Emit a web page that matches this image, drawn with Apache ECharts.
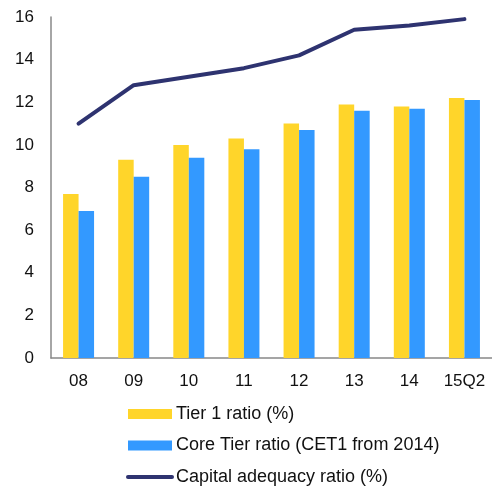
<!DOCTYPE html>
<html>
<head>
<meta charset="utf-8">
<script src="https://cdn.jsdelivr.net/npm/echarts@6/dist/echarts.min.js"></script>
<style>
  html, body { margin: 0; padding: 0; background: #fff; }
  #chart { width: 492px; height: 486px; }
</style>
</head>
<body>
<div id="chart"></div>
<script>
const categories = ["08", "09", "10", "11", "12", "13", "14", "15Q2"];
const tier1 = [7.7, 9.3, 10.0, 10.3, 11.0, 11.9, 11.8, 12.2];
const coreTier = [6.9, 8.5, 9.4, 9.8, 10.7, 11.6, 11.7, 12.1];
const capitalAdequacy = [11.0, 12.8, 13.2, 13.6, 14.2, 15.4, 15.6, 15.9];

let chart = echarts.init(document.getElementById("chart"));
chart.setOption({
  animation: false,
  textStyle: { fontFamily: "Liberation Sans, Arial, sans-serif" },
  grid: { left: 51, top: 17, width: 446, height: 341 },
  legend: {
    orient: "vertical",
    left: 121,
    top: 400,
    height: 90,
    itemWidth: 44,
    itemHeight: 10,
    itemGap: 13.5,
    textStyle: { fontSize: 18, color: "#111", padding: [0, 0, 0, -1] },
    data: [
      { name: "Tier 1 ratio (%)", icon: "rect" },
      { name: "Core Tier ratio (CET1 from 2014)", icon: "rect" },
      { name: "Capital adequacy ratio (%)", itemStyle: { opacity: 0 }, lineStyle: { width: 4, color: "#2E3370", cap: "round" } }
    ]
  },
  xAxis: {
    type: "category",
    data: categories,
    axisLine: { lineStyle: { color: "#888", width: 1.5 } },
    axisTick: { show: false },
    axisLabel: { color: "#111", fontSize: 17, margin: 15 }
  },
  yAxis: {
    type: "value",
    min: 0,
    max: 16,
    interval: 2,
    axisLine: { show: true, lineStyle: { color: "#888", width: 1.5 } },
    axisTick: { show: false },
    splitLine: { show: false },
    axisLabel: { color: "#111", fontSize: 17, margin: 17 }
  },
  series: [
    {
      name: "Tier 1 ratio (%)",
      type: "bar",
      data: tier1,
      barWidth: 15.5,
      barGap: "0%",
      itemStyle: { color: "#FFD52A" }
    },
    {
      name: "Core Tier ratio (CET1 from 2014)",
      type: "bar",
      data: coreTier,
      barWidth: 15.5,
      barGap: "0%",
      itemStyle: { color: "#3399FF" }
    },
    {
      name: "Capital adequacy ratio (%)",
      type: "line",
      data: capitalAdequacy,
      symbol: "none",
      lineStyle: { color: "#2E3370", width: 4, cap: "round" },
      itemStyle: { color: "#2E3370" }
    }
  ]
});
</script>
</body>
</html>
